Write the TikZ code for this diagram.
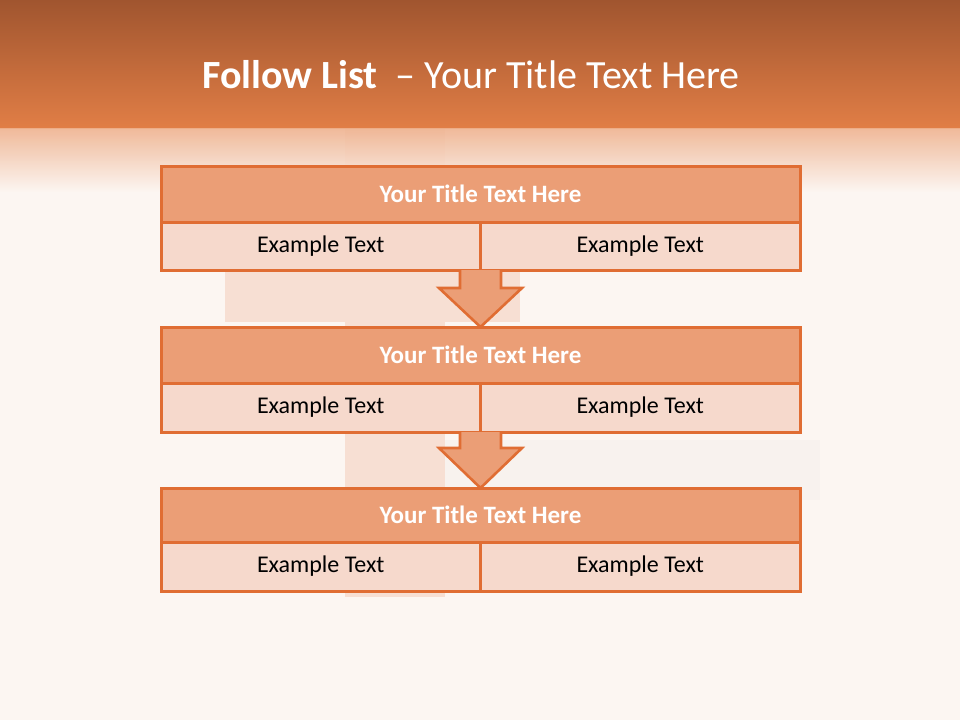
\documentclass[tikz,border=0pt]{standalone}
\usepackage{fontspec}
\setmainfont{Carlito}
\usetikzlibrary{positioning}
\definecolor{bgc}{HTML}{FCF6F2}
\definecolor{topA}{HTML}{A0552F}
\definecolor{topB}{HTML}{E17E46}
\definecolor{fadeA}{HTML}{EFB390}
\definecolor{edgec}{HTML}{E06D33}
\definecolor{headc}{HTML}{EB9E76}
\definecolor{cellc}{HTML}{F6D9CC}
\definecolor{crossc}{HTML}{F3C4AE}
\tikzset{
  headbox/.style={draw=edgec, line width=3pt, fill=headc, minimum width=639pt, minimum height=56pt, inner sep=0pt, outer sep=0pt, anchor=north west, text=white, font=\fontsize{25}{28}\selectfont\bfseries},
  cellbox/.style={draw=edgec, line width=3pt, fill=cellc, minimum width=319.5pt, inner sep=0pt, outer sep=0pt, anchor=north west, text=black, font=\fontsize{24}{28}\selectfont},
  downarrow/.style={draw=edgec, line width=2.6pt, fill=headc, line join=miter},
}
\begin{document}
\begin{tikzpicture}[x=1pt,y=-1pt]
\useasboundingbox (0,0) rectangle (960,720);
\fill[bgc] (0,0) rectangle (960,720);
% faint background cross
\fill[crossc, opacity=0.45] (345,128) rectangle (445,597);
\fill[crossc, opacity=0.45] (225,272) rectangle (345,322);
\fill[crossc, opacity=0.45] (445,272) rectangle (520,322);
\fill[gray, opacity=0.03] (445,440) rectangle (820,500);
% header gradient
\shade[top color=topA, bottom color=topB] (0,0) rectangle (960,128);
\shade[top color=fadeA, bottom color=bgc, opacity=0.9] (0,128) rectangle (960,192);
% title
\node[text=white, font=\fontsize{40}{44}\selectfont] (title) at (471,75) {\textbf{Follow List}\ \ – Your Title Text Here};
% boxes
\foreach \i/\ty/\cy/\ch in {1/166/222/48, 2/327/383/49, 3/488/542/49}{
  \node[headbox, minimum height=\cy-\ty] (h\i) at (161,\ty) {\raisebox{1.5pt}{Your Title Text Here}};
  \node[cellbox, minimum height=\ch] (l\i) at (161,\cy) {Example Text};
  \node[cellbox, minimum height=\ch] (r\i) at (480.5,\cy) {Example Text};
}
% arrows
\draw[downarrow] (460,270) -- (460,288) -- (439,288) -- (480.5,327) -- (522,288) -- (501,288) -- (501,270);
\draw[downarrow] (460,432) -- (460,448) -- (439,448) -- (480.5,488) -- (522,448) -- (501,448) -- (501,432);
\end{tikzpicture}
\end{document}
